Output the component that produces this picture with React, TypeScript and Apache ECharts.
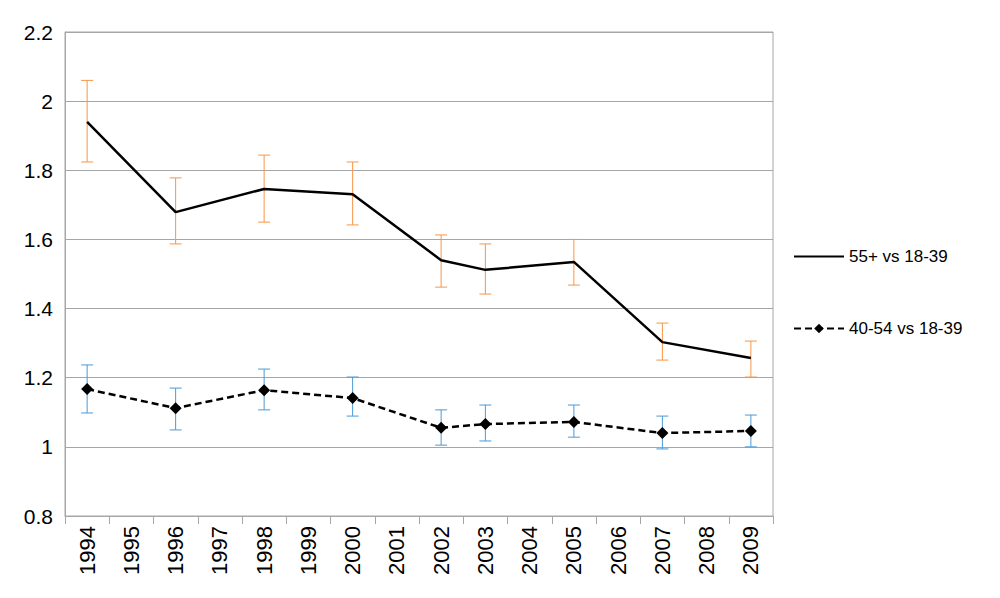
import { useEffect, useRef } from "react";
import * as echarts from "echarts";

const years = ["1994", "1995", "1996", "1997", "1998", "1999", "2000", "2001", "2002", "2003", "2004", "2005", "2006", "2007", "2008", "2009"];

// null = year without survey
const older = [1.94, null, 1.679, null, 1.746, null, 1.731, null, 1.54, 1.512, null, 1.535, null, 1.303, null, 1.257];
const olderHigh = [2.06, null, 1.778, null, 1.844, null, 1.824, null, 1.613, 1.587, null, 1.6, null, 1.358, null, 1.306];
const olderLow = [1.824, null, 1.587, null, 1.65, null, 1.642, null, 1.462, 1.442, null, 1.468, null, 1.251, null, 1.202];

const middle = [1.167, null, 1.112, null, 1.164, null, 1.141, null, 1.055, 1.066, null, 1.072, null, 1.04, null, 1.046];
const middleHigh = [1.237, null, 1.17, null, 1.225, null, 1.202, null, 1.107, 1.121, null, 1.121, null, 1.089, null, 1.092];
const middleLow = [1.098, null, 1.049, null, 1.107, null, 1.089, null, 1.005, 1.017, null, 1.028, null, 0.994, null, 1.0];

const errorData = (hi: (number | null)[], lo: (number | null)[]) =>
  years.flatMap((_, i) => (hi[i] == null ? [] : [[i, lo[i], hi[i]]]));

const errorSeries = (hi: (number | null)[], lo: (number | null)[], color: string) => ({
  type: "custom",
  data: errorData(hi, lo),
  z: 1,
  renderItem: (_p: any, api: any) => {
    const x = api.value(0);
    const a = api.coord([x, api.value(1)]);
    const b = api.coord([x, api.value(2)]);
    const w = 6;
    const style = { stroke: color, lineWidth: 1 };
    return {
      type: "group",
      children: [
        { type: "line", shape: { x1: a[0], y1: a[1], x2: b[0], y2: b[1] }, style },
        { type: "line", shape: { x1: a[0] - w, y1: a[1], x2: a[0] + w, y2: a[1] }, style },
        { type: "line", shape: { x1: b[0] - w, y1: b[1], x2: b[0] + w, y2: b[1] }, style },
      ],
    };
  },
});

export default function App() {
  const ref = useRef<HTMLDivElement>(null);

  useEffect(() => {
    if (!ref.current) return;
    const chart = echarts.init(ref.current, null, { renderer: "svg" });
    chart.setOption({
      animation: false,
      textStyle: { fontFamily: "Liberation Sans, Arial, sans-serif" },
      grid: { left: 65, right: 227, top: 32, bottom: 82, show: true, borderColor: "#a6a6a6", borderWidth: 1 },
      legend: {
        orient: "vertical",
        left: 788,
        top: 243,
        itemGap: 55,
        itemWidth: 50,
        itemHeight: 12,
        textStyle: { fontSize: 17, color: "#000" },
        data: [
          { name: "55+ vs 18-39", itemStyle: { opacity: 0 } },
          { name: "40-54 vs 18-39" },
        ],
      },
      xAxis: {
        type: "category",
        data: years,
        axisLine: { lineStyle: { color: "#a6a6a6" } },
        axisTick: { show: true, length: 8, lineStyle: { color: "#a6a6a6" } },
        axisLabel: { rotate: 90, fontSize: 22, color: "#000", margin: 10 },
      },
      yAxis: {
        type: "value",
        min: 0.8,
        max: 2.2,
        interval: 0.2,
        axisLine: { show: true, lineStyle: { color: "#a6a6a6" } },
        axisLabel: { fontSize: 21, color: "#000", margin: 12, formatter: (v: number) => String(Math.round(v * 10) / 10) },
        splitLine: { lineStyle: { color: "#a6a6a6" } },
      },
      series: [
        errorSeries(olderHigh, olderLow, "#f79646"),
        errorSeries(middleHigh, middleLow, "#4a9ad8"),
        {
          name: "55+ vs 18-39",
          type: "line",
          data: older,
          connectNulls: true,
          symbol: "none",
          z: 3,
          lineStyle: { color: "#000", width: 2.5 },
          itemStyle: { color: "#000" },
        },
        {
          name: "40-54 vs 18-39",
          type: "line",
          data: middle,
          connectNulls: true,
          symbol: "diamond",
          symbolSize: 12,
          z: 3,
          lineStyle: { color: "#000", width: 2.5, type: [7, 4] },
          itemStyle: { color: "#000" },
        },
      ],
    });
    return () => chart.dispose();
  }, []);

  return <div ref={ref} style={{ width: 1000, height: 598, margin: -8 }} />;
}
